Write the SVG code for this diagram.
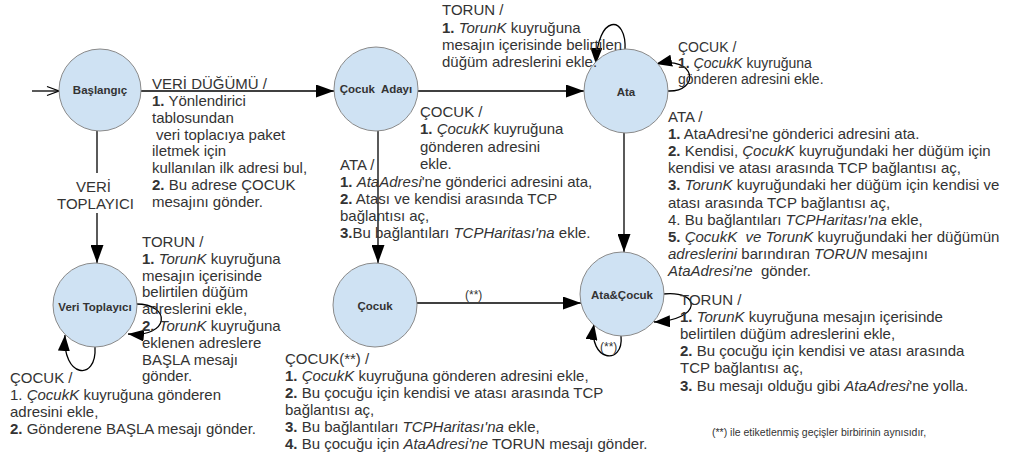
<svg xmlns="http://www.w3.org/2000/svg" width="1009" height="460" viewBox="0 0 1009 460">
  <style>
    .t { font-family: "Liberation Sans", Arial, sans-serif; font-size: 15px; fill: #333; }
    .s { font-size: 14px; }
    .f { font-size: 10.5px; }
    .m { font-size: 12px; }
    .b { font-weight: bold; }
    .i { font-style: italic; }
    .n { font-family: "Liberation Sans", Arial, sans-serif; font-size: 11.5px; font-weight: bold; fill: #333; text-anchor: middle; }
    .node circle { fill: #cfe2f3; stroke: #8a8a8a; stroke-width: 1; }
    .edge { fill: none; stroke: #000; stroke-width: 1.3; }
    .big { marker-end: url(#ah); }
    .lp { marker-end: url(#ahs); }
  </style>
  <defs>
    <marker id="ah" markerUnits="userSpaceOnUse" markerWidth="18" markerHeight="13" viewBox="0 0 18 13" refX="18" refY="6.5" orient="auto">
      <path d="M0,0 L18,6.5 L0,13 z" fill="#000"/>
    </marker>
    <marker id="ahs" markerUnits="userSpaceOnUse" markerWidth="16" markerHeight="12" viewBox="0 0 16 12" refX="16" refY="6" orient="auto">
      <path d="M0,0 L16,6 L0,12 z" fill="#000"/>
    </marker>
  </defs>

  <!-- connectors -->
  <g id="connectors">
    <!-- initial transition -->
    <path class="edge" d="M32,91 L59,91"/>
    <path class="edge" d="M47,86.5 L59,91 L47,95.5"/>
    <!-- Başlangıç -> Çocuk Adayı -->
    <path class="edge big" d="M141,91 L334,91"/>
    <!-- Çocuk Adayı -> Ata -->
    <path class="edge big" d="M418,91 L584,91"/>
    <!-- Başlangıç -> Veri Toplayıcı (broken by its label) -->
    <path class="edge" d="M97,131 L97,173"/>
    <path class="edge big" d="M97,213 L97,263"/>
    <!-- Çocuk Adayı -> Çocuk -->
    <path class="edge big" d="M378,131 L378,263"/>
    <!-- Ata -> Ata&Çocuk -->
    <path class="edge big" d="M624,133 L624,252"/>
    <!-- Çocuk -> Ata&Çocuk -->
    <path class="edge big" d="M417,303 L581,303"/>
    <!-- self loops -->
    <path class="edge lp" d="M625,50 C627,14 597,14 596,64"/>
    <path class="edge lp" d="M668,91 C700,92 697,55 656,64"/>
    <path class="edge lp" d="M136,304 C172,304 170,338 128,334"/>
    <path class="edge lp" d="M95,347 C97,382 62,378 65,335"/>
    <path class="edge lp" d="M663,294 C702,290 702,320 654,322"/>
    <path class="edge lp" d="M621,336 C624,366 588,362 594,324"/>
  </g>

  <!-- states -->
  <g id="baslangic" class="node">
    <circle cx="100" cy="90" r="41"/>
    <text class="n" x="100" y="94">Başlangıç</text>
  </g>
  <g id="cocuk-adayi" class="node">
    <circle cx="376" cy="89" r="42"/>
    <text class="n" x="376" y="93" xml:space="preserve">Çocuk  Adayı</text>
  </g>
  <g id="ata" class="node">
    <circle cx="626" cy="91" r="42"/>
    <text class="n" x="626" y="96">Ata</text>
  </g>
  <g id="veri-toplayici" class="node">
    <circle cx="95" cy="305" r="42"/>
    <text class="n" x="95" y="311">Veri Toplayıcı</text>
  </g>
  <g id="cocuk" class="node">
    <circle cx="375" cy="305" r="42"/>
    <text class="n" x="375" y="310">Çocuk</text>
  </g>
  <g id="ata-cocuk" class="node">
    <circle cx="622" cy="294" r="42"/>
    <text class="n" x="622" y="299">Ata&amp;Çocuk</text>
  </g>

  <!-- transition labels -->
  <g id="labels">
    <!-- Başlangıç -> Çocuk Adayı -->
    <text class="t" x="152" y="89">VERİ DÜĞÜMÜ /</text>
    <text class="t" x="152" y="106"><tspan class="b">1.</tspan> Yönlendirici</text>
    <text class="t" x="152" y="123">tablosundan</text>
    <text class="t" x="156" y="139.5">veri toplacıya paket</text>
    <text class="t" x="152" y="156">iletmek için</text>
    <text class="t" x="152" y="173">kullanılan ilk adresi bul,</text>
    <text class="t" x="152" y="190"><tspan class="b">2.</tspan> Bu adrese ÇOCUK</text>
    <text class="t" x="152" y="206.5">mesajını gönder.</text>

    <!-- Başlangıç -> Veri Toplayıcı -->
    <text class="t" x="76" y="192">VERİ</text>
    <text class="t" x="57" y="209">TOPLAYICI</text>

    <!-- Çocuk Adayı -> Ata -->
    <text class="t" x="420" y="117">ÇOCUK /</text>
    <text class="t" x="420" y="134"><tspan class="b">1.</tspan> <tspan class="i">ÇocukK</tspan> kuyruğuna</text>
    <text class="t" x="420" y="151.5">gönderen adresini</text>
    <text class="t" x="420" y="168.5">ekle.</text>

    <!-- Çocuk Adayı -> Çocuk -->
    <text class="t" x="340" y="169.5">ATA /</text>
    <text class="t" x="340" y="187"><tspan class="b">1.</tspan> <tspan class="i">AtaAdresi</tspan>'ne gönderici adresini ata,</text>
    <text class="t" x="340" y="204"><tspan class="b">2.</tspan> Atası ve kendisi arasında TCP</text>
    <text class="t" x="340" y="221">bağlantısı aç,</text>
    <text class="t" x="340" y="238"><tspan class="b">3.</tspan>Bu bağlantıları <tspan class="i">TCPHaritası'na</tspan> ekle.</text>

    <!-- Ata, TORUN loop -->
    <text class="t" x="442" y="15">TORUN /</text>
    <text class="t" x="442" y="33"><tspan class="b">1.</tspan> <tspan class="i">TorunK</tspan> kuyruğuna</text>
    <text class="t" x="442" y="50">mesajın içerisinde belirtilen</text>
    <text class="t" x="442" y="67">düğüm adreslerini ekle.</text>

    <!-- Ata, ÇOCUK loop -->
    <text class="t s" x="678" y="52">ÇOCUK /</text>
    <text class="t s" x="678" y="68"><tspan class="b">1.</tspan> <tspan class="i">ÇocukK</tspan> kuyruğuna</text>
    <text class="t s" x="678" y="84">gönderen adresini ekle.</text>

    <!-- Ata -> Ata&Çocuk -->
    <text class="t" x="668" y="122">ATA /</text>
    <text class="t" x="668" y="139.1"><tspan class="b">1.</tspan> AtaAdresi'ne gönderici adresini ata.</text>
    <text class="t" x="668" y="156.2"><tspan class="b">2.</tspan> Kendisi, <tspan class="i">ÇocukK</tspan> kuyruğundaki her düğüm için</text>
    <text class="t" x="668" y="173.3">kendisi ve atası arasında TCP bağlantısı aç,</text>
    <text class="t" x="668" y="190.4"><tspan class="b">3.</tspan> <tspan class="i">TorunK</tspan> kuyruğundaki her düğüm için kendisi ve</text>
    <text class="t" x="668" y="207.5">atası arasında TCP bağlantısı aç,</text>
    <text class="t" x="668" y="224.6">4. Bu bağlantıları <tspan class="i">TCPHaritası'na</tspan> ekle,</text>
    <text class="t" x="668" y="241.7" xml:space="preserve"><tspan class="b">5.</tspan> <tspan class="i">ÇocukK  ve TorunK</tspan> kuyruğundaki her düğümün</text>
    <text class="t" x="668" y="258.8"><tspan class="i">adreslerini</tspan> barındıran <tspan class="i">TORUN</tspan> mesajını</text>
    <text class="t" x="668" y="275.9" xml:space="preserve"><tspan class="i">AtaAdresi'ne</tspan>  gönder.</text>

    <!-- Veri Toplayıcı, TORUN loop -->
    <text class="t" x="142" y="247">TORUN /</text>
    <text class="t" x="142" y="263.8"><tspan class="b">1.</tspan> <tspan class="i">TorunK</tspan> kuyruğuna</text>
    <text class="t" x="142" y="280.6">mesajın içerisinde</text>
    <text class="t" x="142" y="297.4">belirtilen düğüm</text>
    <text class="t" x="142" y="314.2">adreslerini ekle,</text>
    <text class="t" x="142" y="331"><tspan class="b">2.</tspan> <tspan class="i">TorunK</tspan> kuyruğuna</text>
    <text class="t" x="142" y="347.8">eklenen adreslere</text>
    <text class="t" x="142" y="364.6">BAŞLA mesajı</text>
    <text class="t" x="142" y="381.4">gönder.</text>

    <!-- Veri Toplayıcı, ÇOCUK loop -->
    <text class="t" x="10" y="383">ÇOCUK /</text>
    <text class="t" x="10" y="400">1. <tspan class="i">ÇocukK</tspan> kuyruğuna gönderen</text>
    <text class="t" x="10" y="417">adresini ekle,</text>
    <text class="t" x="10" y="434"><tspan class="b">2.</tspan> Gönderene BAŞLA mesajı gönder.</text>

    <!-- Çocuk -> Ata&Çocuk -->
    <text class="t m" x="465" y="299">(**)</text>
    <text class="t" x="285" y="363.5">ÇOCUK(**) /</text>
    <text class="t" x="285" y="381"><tspan class="b">1.</tspan> <tspan class="i">ÇocukK</tspan> kuyruğuna gönderen adresini ekle,</text>
    <text class="t" x="285" y="398"><tspan class="b">2.</tspan> Bu çocuğu için kendisi ve atası arasında TCP</text>
    <text class="t" x="285" y="415">bağlantısı aç,</text>
    <text class="t" x="285" y="432"><tspan class="b">3.</tspan> Bu bağlantıları <tspan class="i">TCPHaritası'na</tspan> ekle,</text>
    <text class="t" x="285" y="449"><tspan class="b">4.</tspan> Bu çocuğu için <tspan class="i">AtaAdresi'ne</tspan> TORUN mesajı gönder.</text>

    <!-- Ata&Çocuk loops -->
    <text class="t m" x="600" y="351">(**)</text>
    <text class="t" x="680" y="304.5">TORUN /</text>
    <text class="t" x="680" y="321.7"><tspan class="b">1.</tspan> <tspan class="i">TorunK</tspan> kuyruğuna mesajın içerisinde</text>
    <text class="t" x="680" y="338.9">belirtilen düğüm adreslerini ekle,</text>
    <text class="t" x="680" y="356.1"><tspan class="b">2.</tspan> Bu çocuğu için kendisi ve atası arasında</text>
    <text class="t" x="680" y="373.3">TCP bağlantısı aç,</text>
    <text class="t" x="680" y="390.5"><tspan class="b">3.</tspan> Bu mesajı olduğu gibi <tspan class="i">AtaAdresi</tspan>'ne yolla.</text>

    <!-- footnote -->
    <text class="t f" x="712" y="436">(**) ile etiketlenmiş geçişler birbirinin aynısıdır,</text>
  </g>
</svg>
